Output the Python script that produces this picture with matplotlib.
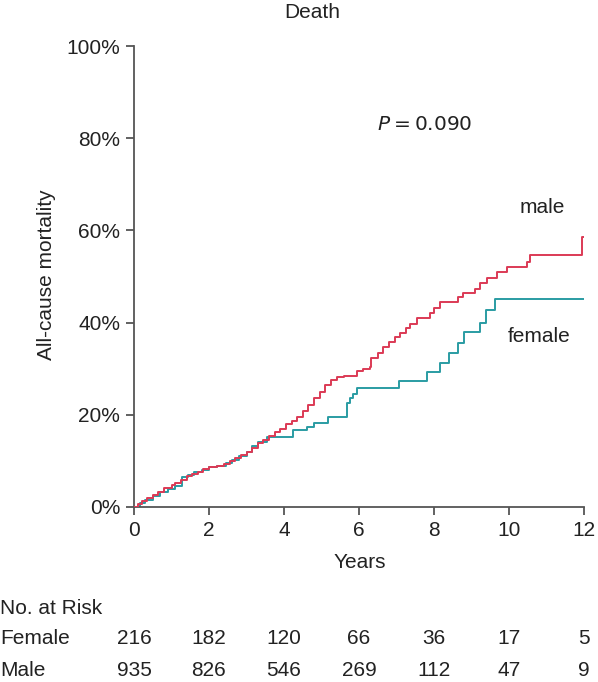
import numpy as np
import matplotlib
matplotlib.use("Agg")
import matplotlib.pyplot as plt
import matplotlib.transforms as mtransforms

plt.rcParams['font.family'] = ['Liberation Sans', 'DejaVu Sans']

# Kaplan-Meier style cumulative mortality (years, %)
male_t = [0, 0.1, 0.2, 0.35, 0.5, 0.65, 0.8, 1.0, 1.1, 1.25, 1.4, 1.55, 1.7, 1.85,
          2.0, 2.2, 2.4, 2.55, 2.7, 2.85, 3.0, 3.15, 3.3, 3.45, 3.6, 3.75, 3.9,
          4.05, 4.2, 4.35, 4.5, 4.65, 4.8, 4.95, 5.1, 5.25, 5.4, 5.6, 5.95, 6.1,
          6.29, 6.33, 6.5, 6.65, 6.8, 6.96, 7.1, 7.25, 7.36, 7.54, 7.89, 8.0,
          8.16, 8.65, 8.77, 9.09, 9.23, 9.4, 9.67, 9.94, 10.47, 10.56, 11.94, 12.0]
male_y = [0, 0.6, 1.2, 1.9, 2.6, 3.3, 4.2, 4.8, 5.3, 5.9, 6.7, 7.2, 7.7, 8.2,
          8.6, 8.9, 9.4, 10.0, 10.6, 11.2, 12.0, 12.9, 13.8, 14.6, 15.4, 16.2, 17.0,
          17.9, 18.7, 19.6, 20.9, 22.2, 23.6, 25.0, 26.5, 27.6, 28.2, 28.5, 29.6, 30.0,
          30.4, 32.3, 33.5, 34.8, 35.8, 36.9, 37.8, 38.9, 39.7, 40.9, 42.0, 43.2,
          44.5, 45.6, 46.5, 47.3, 48.5, 49.6, 51.0, 52.1, 53.2, 54.7, 58.5, 58.5]

female_t = [0, 0.15, 0.3, 0.5, 0.7, 0.9, 1.1, 1.27, 1.45, 1.6, 1.8, 2.0, 2.2, 2.45,
            2.6, 2.8, 3.0, 3.15, 3.3, 3.54, 4.25, 4.6, 4.8, 5.18, 5.69, 5.75, 5.85,
            5.94, 7.07, 7.82, 8.16, 8.41, 8.65, 8.8, 9.23, 9.39, 9.63, 12.0]
female_y = [0, 0.8, 1.6, 2.4, 3.2, 4.0, 4.6, 6.4, 6.9, 7.5, 8.1, 8.6, 9.0, 9.6,
            10.2, 11.0, 12.0, 13.2, 14.0, 15.2, 16.7, 17.4, 18.2, 19.5, 22.5, 23.7, 24.5,
            25.9, 27.3, 29.2, 31.2, 33.3, 35.5, 37.9, 40.0, 42.7, 45.1, 45.1]

risk_years = [0, 2, 4, 6, 8, 10, 12]
risk_female = [216, 182, 120, 66, 36, 17, 5]
risk_male = [935, 826, 546, 269, 112, 47, 9]

W, H = 598, 682
fig = plt.figure(figsize=(W / 100, H / 100), dpi=100)
ax = fig.add_axes([134 / W, 1 - 507 / H, 450 / W, 461 / H])

red = '#dc3a55'
teal = '#2a9ca3'
ax.step(male_t, male_y, where='post', color=red, lw=1.4, zorder=3)
ax.step(female_t, female_y, where='post', color=teal, lw=1.4, zorder=2)

ax.set_xlim(0, 12)
ax.set_ylim(0, 100)
ax.set_xticks(risk_years)
ax.set_yticks(range(0, 101, 20))
ax.set_yticklabels([f"{v}%" for v in range(0, 101, 20)])
for s in ['top', 'right']:
    ax.spines[s].set_visible(False)
for s in ['left', 'bottom']:
    ax.spines[s].set_color('#555555')
    ax.spines[s].set_linewidth(1.3)
ax.tick_params(colors='#555555', labelcolor='#222222', labelsize=15, length=6,
               width=1.3, direction='out', pad=4)
ax.margins(0)

txt = dict(color='#222222', fontsize=15)
fig.text(312 / W, 1 - 12 / H, "Death", ha='center', va='center', **txt)
fig.text(47 / W, 1 - 275 / H, "All-cause mortality", rotation=90,
         ha='center', va='center', **txt)
fig.text(360 / W, 1 - 563 / H, "Years", ha='center', va='center', **txt)
fig.text(425 / W, 1 - 125 / H, r"$P$" + "\u2009=\u20090.090", ha='center', va='center',
         family=['DejaVu Sans'], color='#222222', fontsize=14.5)
fig.text(542 / W, 1 - 208 / H, "male", ha='center', va='center', **txt)
fig.text(539 / W, 1 - 337 / H, "female", ha='center', va='center', **txt)

# number at risk table
trans = mtransforms.blended_transform_factory(ax.transData, fig.transFigure)
fig.text(0, 1 - 608 / H, "No. at Risk", ha='left', va='center', **txt)
fig.text(0, 1 - 639 / H, "Female", ha='left', va='center', **txt)
fig.text(0, 1 - 670 / H, "Male", ha='left', va='center', **txt)
for yr, f, m in zip(risk_years, risk_female, risk_male):
    ax.text(yr, 1 - 639 / H, str(f), transform=trans, ha='center', va='center', **txt)
    ax.text(yr, 1 - 670 / H, str(m), transform=trans, ha='center', va='center', **txt)

fig.savefig("out.png", dpi=100)
